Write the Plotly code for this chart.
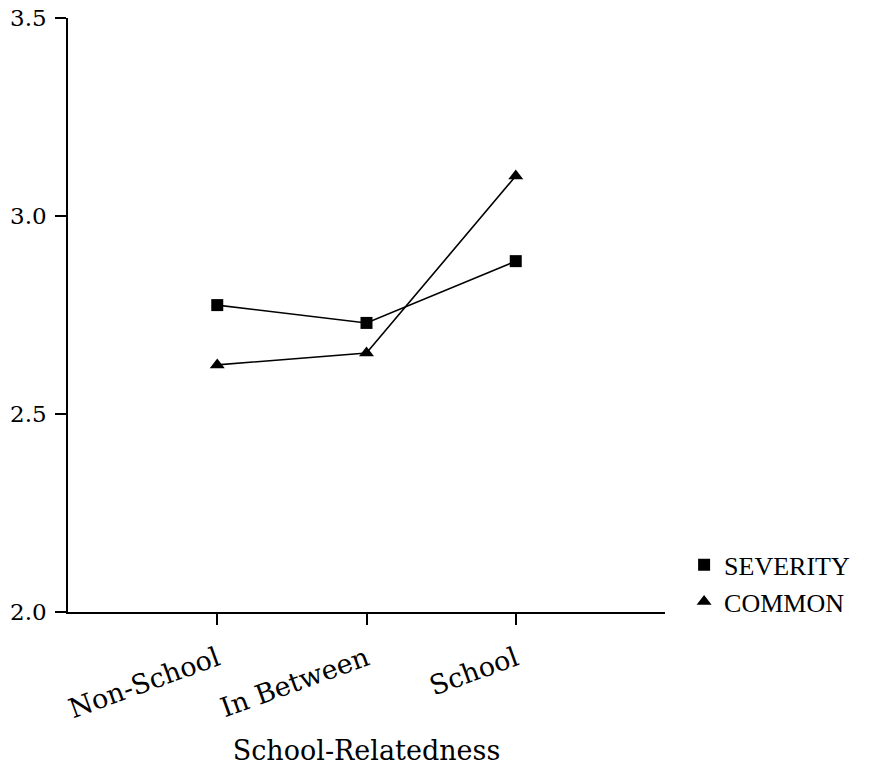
import plotly.graph_objects as go

categories = ["Non-School", "In Between", "School"]
severity = [2.775, 2.730, 2.886]
common = [2.624, 2.654, 3.101]
y_ticks = [2.0, 2.5, 3.0, 3.5]
y_ticklabels = ["2.0", "2.5", "3.0", "3.5"]
x_title = "School-Relatedness"

xpos = list(range(len(categories)))
font_serif = "DejaVu Serif"

fig = go.Figure()
fig.add_trace(go.Scatter(x=xpos, y=severity, mode="lines+markers", showlegend=False,
                         line=dict(color="black", width=1.6),
                         marker=dict(symbol="square", size=12, color="black")))
fig.add_trace(go.Scatter(x=xpos, y=common, mode="lines+markers", showlegend=False,
                         line=dict(color="black", width=1.6),
                         marker=dict(symbol="triangle-up", size=13, color="black")))
# legend-only entries (marker only)
fig.add_trace(go.Scatter(x=[None], y=[None], mode="markers", name="SEVERITY",
                         marker=dict(symbol="square", size=12, color="black")))
fig.add_trace(go.Scatter(x=[None], y=[None], mode="markers", name="COMMON",
                         marker=dict(symbol="triangle-up", size=13, color="black")))

# page body has an 8px margin, so the figure is sized/offset to compensate
fig.update_layout(
    width=862, height=758,
    margin=dict(l=60, r=205, t=10, b=154),
    plot_bgcolor="white", paper_bgcolor="white",
    font=dict(family=font_serif, color="black", size=24),
    legend=dict(x=1.032, y=0.119, xanchor="left", yanchor="top",
                font=dict(family="Liberation Serif", size=26),
                bgcolor="rgba(0,0,0,0)", tracegroupgap=0, itemwidth=30),
)
fig.update_xaxes(
    range=[-1, 3], tickmode="array", tickvals=xpos, ticktext=categories,
    tickangle=-20, ticks="outside", ticklen=11, tickwidth=1.5, tickcolor="black",
    showline=True, linecolor="black", linewidth=1.5, showgrid=False, zeroline=False,
    tickfont=dict(family=font_serif, size=27), ticklabelstandoff=8, automargin=False,
    ticklabeloverflow="allow",
    title=dict(text=x_title, font=dict(family=font_serif, size=27), standoff=21),
)
fig.update_yaxes(
    range=[2.0, 3.5], tickmode="array", tickvals=y_ticks, ticktext=y_ticklabels,
    ticks="outside", ticklen=11, tickwidth=1.5, tickcolor="black",
    showline=True, linecolor="black", linewidth=1.5, showgrid=False, zeroline=False,
    tickfont=dict(family=font_serif, size=23), ticklabelstandoff=4, automargin=False,
    ticklabeloverflow="allow",
)
fig.write_html("out.html", config={"displayModeBar": False})
